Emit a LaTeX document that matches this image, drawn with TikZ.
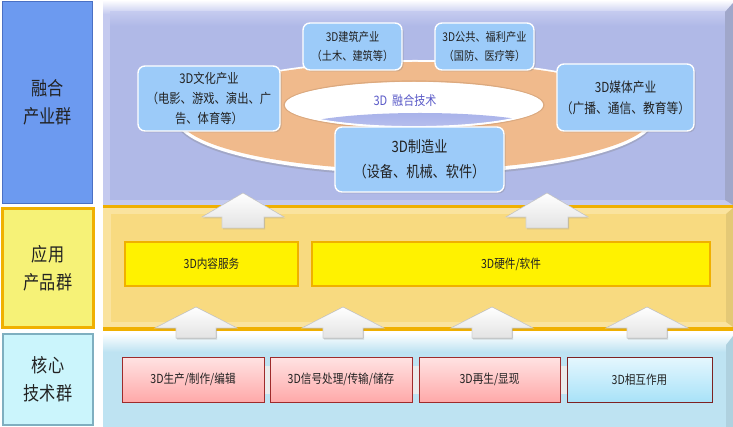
\documentclass[tikz,border=0pt]{standalone}
\usepackage{fontspec}
\setmainfont[FakeStretch=0.85]{Noto Sans CJK SC}
\usetikzlibrary{shadows}
\definecolor{leftblue}{HTML}{6C9AF0}
\definecolor{leftblueedge}{HTML}{4A70C4}
\definecolor{lav}{HTML}{B0B9E7}
\definecolor{lavrim}{HTML}{C4CAEF}
\definecolor{leftyellow}{HTML}{F6F277}
\definecolor{orangeedge}{HTML}{F0B000}
\definecolor{yelpanel}{HTML}{F8DA80}
\definecolor{yelrim}{HTML}{FAE39E}
\definecolor{leftcyan}{HTML}{CBF5FC}
\definecolor{cyanedge}{HTML}{7FAFC0}
\definecolor{corepanel}{HTML}{BEE3F2}
\definecolor{nodeblue}{HTML}{9CCBF9}
\definecolor{ringorange}{HTML}{F0BA8C}
\definecolor{holelavtop}{HTML}{A9B3EA}
\definecolor{holelavbot}{HTML}{CACEF2}
\definecolor{pinktop}{HTML}{FFE3E3}
\definecolor{pinkbot}{HTML}{FFA9A9}
\definecolor{pinkedge}{HTML}{9E2B2B}
\definecolor{cyantop}{HTML}{E5F7FE}
\definecolor{cyanbot}{HTML}{A8E2F8}
\definecolor{fusiontext}{HTML}{5A5AC8}
\definecolor{txt}{HTML}{222222}
\newcommand\blockup[6]{%
  \filldraw[draw=gray!35, line width=.6pt, top color=white, bottom color=gray!22,
    drop shadow={opacity=.25, shadow xshift=1pt, shadow yshift=-1.5pt}]
  (#1,#2) -- (#1+#5,#3) -- (#1+#6,#3) -- (#1+#6,#4) -- (#1-#6,#4) -- (#1-#6,#3) -- (#1-#5,#3) -- cycle;}
\begin{document}
\begin{tikzpicture}[x=1pt,y=-1pt,
  sidelabel/.style={text=txt, align=center, font=\fontsize{19}{28}\selectfont},
  indbox/.style={draw=white, line width=1.4pt, fill=nodeblue, rounded corners=7pt,
    align=center, text=txt, inner sep=2pt,
    drop shadow={opacity=.3, shadow xshift=1.5pt, shadow yshift=-1.5pt}},
  yelbox/.style={draw=orangeedge, line width=1.2pt, fill=yellow, text=txt,
    font=\fontsize{12.5}{15}\selectfont, inner sep=0pt},
  pinkbox/.style={draw=pinkedge, line width=1pt, top color=pinktop, bottom color=pinkbot,
    text=txt, font=\fontsize{12.5}{15}\selectfont, inner sep=0pt,
    minimum height=45pt},
  gapbox/.style={fill=black!8, draw=none, minimum width=7pt, minimum height=28pt, inner sep=0pt}
]
\useasboundingbox (0,0) rectangle (733,427);
\fill[white] (0,0) rectangle (733,427);

% ---------- right panels ----------
% fusion panel
\fill[lavrim] (103,0) rectangle (733,205);
\shade[top color=white, bottom color=lavrim] (103,0) rectangle (733,14);
\fill[lav] (110,12) rectangle (725,200);
\shade[top color=lavrim, bottom color=lav] (110,12) rectangle (725,26);
\fill[lav!85!black!90] (725,12) -- (733,3) -- (733,205) -- (725,200) -- cycle;

% application panel
\fill[orangeedge] (103,205) rectangle (733,331);
\fill[yelrim] (103,208) rectangle (733,327);
\fill[yelpanel] (111,214) rectangle (726,322);
\fill[yelpanel!92!black] (726,214) -- (733,208) -- (733,327) -- (726,322) -- cycle;

% core panel
\fill[corepanel] (103,333) rectangle (733,427);
\shade[top color=white, bottom color=corepanel] (103,333) rectangle (733,352);
\fill[corepanel!92!black] (726,345) -- (733,336) -- (733,427) -- (726,427) -- cycle;

% ---------- left column ----------
\node[draw=leftblueedge, line width=1.5pt, fill=leftblue, minimum width=90pt, minimum height=202pt,
  inner sep=0pt] (lc1) at (47.5,102.5) {};
\node[sidelabel] (lt1) at (lc1.center) {融合\\产业群};
\node[draw=orangeedge, line width=2.5pt, fill=leftyellow, minimum width=91pt, minimum height=119pt,
  inner sep=0pt] (lc2) at (48,268) {};
\node[sidelabel] (lt2) at (lc2.center) {应用\\产品群};
\node[draw=cyanedge, line width=1.2pt, fill=leftcyan, minimum width=90pt, minimum height=91pt,
  inner sep=0pt] (lc3) at (48,379.5) {};
\node[sidelabel] (lt3) at (lc3.center) {核心\\技术群};

% ---------- ring ----------
\fill[white, drop shadow={opacity=.3, shadow xshift=0pt, shadow yshift=-2pt}]
  (415,117) ellipse [x radius=240, y radius=57];
\fill[ringorange] (415,116) ellipse [x radius=237, y radius=54];
\fill[white] (414,105) ellipse [x radius=129, y radius=23];
\begin{scope}
  \clip (414,105) ellipse [x radius=127, y radius=22];
  \shade[top color=holelavtop, bottom color=holelavbot] (420,131) ellipse [x radius=130, y radius=18];
\end{scope}
\draw[ringorange!75!black, opacity=.35, line width=1.2pt] (414,105) ellipse [x radius=130, y radius=24];
\draw[white, line width=1.8pt] (414,105) ellipse [x radius=128, y radius=22];
\node[text=fusiontext, font=\fontsize{13}{15}\selectfont] (fus) at (405,101) {3D\ \ 融合技术};

% ---------- industry boxes ----------
\node[indbox, minimum width=99pt, minimum height=47pt, font=\fontsize{12}{18.5}\selectfont]
  (jz) at (352.5,46.5) {3D建筑产业\\（土木、建筑等）};
\node[indbox, minimum width=99pt, minimum height=47pt, font=\fontsize{12}{18.5}\selectfont]
  (gg) at (484.5,46.5) {3D公共、福利产业\\（国防、医疗等）};
\node[indbox, minimum width=142pt, minimum height=65pt, font=\fontsize{13.3}{20}\selectfont]
  (wh) at (209,98.5) {3D文化产业\\（电影、游戏、演出、广\\告、体育等）};
\node[indbox, minimum width=137pt, minimum height=67pt, font=\fontsize{13.8}{21}\selectfont]
  (mt) at (625.5,97.5) {3D媒体产业\\（广播、通信、教育等）};
\node[indbox, minimum width=169pt, minimum height=65pt, font=\fontsize{15.5}{25}\selectfont]
  (zz) at (419.5,159.5) {3D制造业\\（设备、机械、软件）};

% ---------- arrows between layers ----------
\blockup{243}{193}{217}{228}{41}{21}
\blockup{547}{193}{217}{228}{41}{21}
\blockup{196}{307}{328}{338}{41}{20}
\blockup{343}{307}{328}{338}{41}{20}
\blockup{492}{307}{328}{338}{41}{20}
\blockup{647}{307}{328}{338}{41}{20}

% ---------- application boxes ----------
\node[yelbox, minimum width=173pt, minimum height=44pt] (nr) at (211.5,264) {3D内容服务};
\node[yelbox, minimum width=398pt, minimum height=44pt] (yj) at (511,264) {3D硬件/软件};

% ---------- core technology boxes ----------
\node[gapbox] (g1) at (267,379.5) {};
\node[gapbox] (g2) at (415.5,379.5) {};
\node[gapbox] (g3) at (563.5,379.5) {};
\node[pinkbox, minimum width=142pt] (sc) at (193,379.5) {3D生产/制作/编辑};
\node[pinkbox, minimum width=142pt] (xh) at (341,379.5) {3D信号处理/传输/储存};
\node[pinkbox, minimum width=141pt] (zs) at (489.5,379.5) {3D再生/显现};
\node[pinkbox, minimum width=145pt, top color=cyantop, bottom color=cyanbot, draw=pinkedge!80!black]
  (xz) at (639.5,379.5) {3D相互作用};
\end{tikzpicture}
\end{document}
